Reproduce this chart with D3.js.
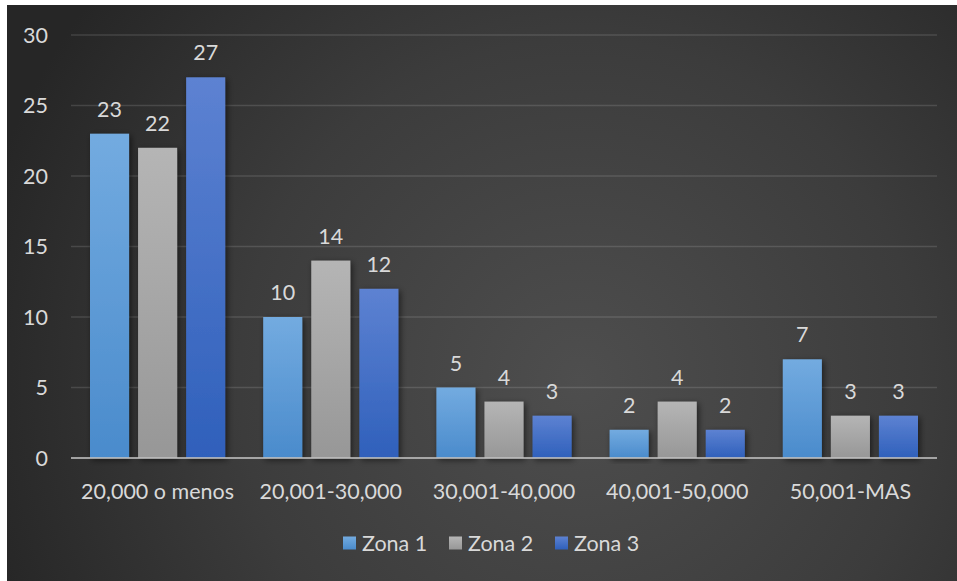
<!DOCTYPE html>
<html>
<head>
<meta charset="utf-8">
<script src="https://cdn.jsdelivr.net/npm/d3@7"></script>
<style>
  html, body { margin: 0; padding: 0; background: #ffffff; }
  svg { display: block; }
  text { font-family: Lato, "Open Sans", sans-serif; }
</style>
</head>
<body>
<svg id="chart" width="957" height="581"></svg>
<script>
// Income ranges (categories)
const categories = ["20,000 o menos", "20,001-30,000", "30,001-40,000", "40,001-50,000", "50,001-MAS"];
// Series names
const seriesNames = ["Zona 1", "Zona 2", "Zona 3"];
// Counts per zone for each income range
const zona1 = [23, 10, 5, 2, 7];
const zona2 = [22, 14, 4, 4, 3];
const zona3 = [27, 12, 3, 2, 3];
// Value axis ticks
const yTicks = [0, 5, 10, 15, 20, 25, 30];

const seriesValues = [zona1, zona2, zona3];
const gradColors = [
  ["#73abe0", "#4a8bcc"],
  ["#b5b5b5", "#979797"],
  ["#5d82d2", "#2f60bb"]
];

const W = 957, H = 581;
const FS = 21.5;
const svg = d3.select("#chart");
const defs = svg.append("defs");

// Background radial gradient
const bg = defs.append("radialGradient").attr("id", "bg")
  .attr("gradientUnits", "userSpaceOnUse")
  .attr("cx", 580).attr("cy", 380).attr("r", 620);
bg.append("stop").attr("offset", "0").attr("stop-color", "#4e4e4e");
bg.append("stop").attr("offset", "0.55").attr("stop-color", "#3c3c3c");
bg.append("stop").attr("offset", "1").attr("stop-color", "#262626");

// Bar gradients
gradColors.forEach((c, i) => {
  const g = defs.append("linearGradient").attr("id", "bar" + i)
    .attr("x1", 0).attr("y1", 0).attr("x2", 0).attr("y2", 1);
  g.append("stop").attr("offset", "0").attr("stop-color", c[0]);
  g.append("stop").attr("offset", "1").attr("stop-color", c[1]);
});

// Soft shadow under bars
const f = defs.append("filter").attr("id", "shadow")
  .attr("x", "-30%").attr("y", "-10%").attr("width", "170%").attr("height", "130%");
f.append("feDropShadow").attr("dx", 2).attr("dy", 2).attr("stdDeviation", 3)
  .attr("flood-color", "#000").attr("flood-opacity", 0.55);

svg.append("rect").attr("x", 7).attr("y", 5).attr("width", W - 7).attr("height", H - 5)
  .attr("fill", "url(#bg)");

const plot = { left: 71, right: 937, top: 35, bottom: 458 };

const x0 = d3.scaleBand().domain(categories).range([plot.left, plot.right]).padding(0);
const x1 = d3.scaleBand().domain(seriesNames)
  .range([19, x0.bandwidth() - 19]).paddingInner(0.1875).paddingOuter(0);
const y = d3.scaleLinear().domain([0, 30]).range([plot.bottom, plot.top]);

// Gridlines
svg.append("g").selectAll("line").data(yTicks.filter(t => t > 0)).join("line")
  .attr("x1", plot.left).attr("x2", plot.right)
  .attr("y1", d => y(d)).attr("y2", d => y(d))
  .attr("stroke", "#ffffff").attr("stroke-opacity", 0.13).attr("stroke-width", 1.5);

// Y tick labels
svg.append("g").selectAll("text").data(yTicks).join("text")
  .attr("x", 48).attr("y", d => y(d)).attr("dy", "0.35em")
  .attr("text-anchor", "end").attr("fill", "#d9d9d9").attr("font-size", FS)
  .text(d => d);

// Bars
const groups = svg.append("g").selectAll("g").data(categories).join("g")
  .attr("transform", d => `translate(${x0(d)},0)`);

groups.selectAll("rect").data((c, ci) => seriesNames.map((s, si) => ({ s, si, v: seriesValues[si][ci] })))
  .join("rect")
  .attr("x", d => x1(d.s)).attr("width", x1.bandwidth())
  .attr("y", d => y(d.v)).attr("height", d => y(0) - y(d.v))
  .attr("fill", d => `url(#bar${d.si})`)
  .attr("filter", "url(#shadow)");

// Data labels
groups.selectAll("text").data((c, ci) => seriesNames.map((s, si) => ({ s, si, v: seriesValues[si][ci] })))
  .join("text")
  .attr("x", d => x1(d.s) + x1.bandwidth() / 2).attr("y", d => y(d.v) - 17)
  .attr("text-anchor", "middle").attr("fill", "#d9d9d9").attr("font-size", FS)
  .text(d => d.v);

// Category axis line
svg.append("line").attr("x1", plot.left).attr("x2", plot.right)
  .attr("y1", plot.bottom).attr("y2", plot.bottom)
  .attr("stroke", "#bfbfbf").attr("stroke-opacity", 0.8).attr("stroke-width", 2);

// Category labels
svg.append("g").selectAll("text").data(categories).join("text")
  .attr("x", d => x0(d) + x0.bandwidth() / 2).attr("y", 491).attr("dy", "0.35em")
  .attr("text-anchor", "middle").attr("fill", "#d9d9d9").attr("font-size", FS)
  .text(d => d);

// Legend
const legendX = [343, 449, 555];
const lg = svg.append("g").selectAll("g").data(seriesNames).join("g")
  .attr("transform", (d, i) => `translate(${legendX[i]},543)`);
lg.append("rect").attr("x", 0).attr("y", -6.5).attr("width", 13).attr("height", 13)
  .attr("fill", (d, i) => `url(#bar${i})`);
lg.append("text").attr("x", 19).attr("y", 0).attr("dy", "0.35em")
  .attr("fill", "#d9d9d9").attr("font-size", FS).text(d => d);
</script>
</body>
</html>
